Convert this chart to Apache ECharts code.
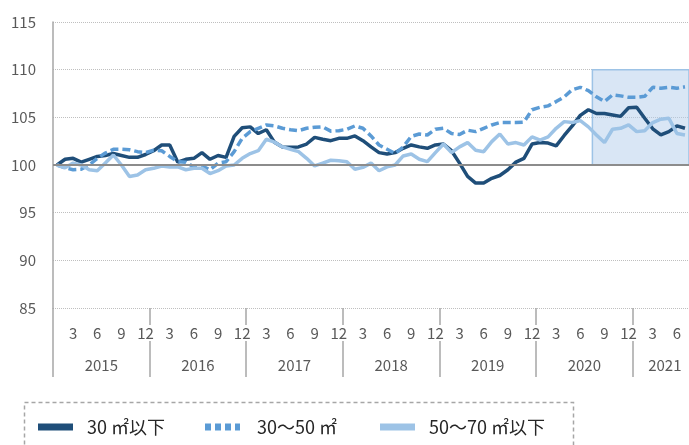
<!DOCTYPE html>
<html>
<head>
<meta charset="utf-8">
<script src="https://cdn.jsdelivr.net/npm/echarts@6/dist/echarts.min.js"></script>
<style>
  html, body { margin: 0; padding: 0; background: #fff; }
  #main { width: 689px; height: 445px; }
</style>
</head>
<body>
<div id="main"></div>
<script>
// 2015年1月 = 100
const years = ['2015', '2016', '2017', '2018', '2019', '2020', '2021']
const lastMonth = 7 // 2021年は7月まで
const seriesNames = ['30 ㎡以下', '30～50 ㎡', '50～70 ㎡以下']

const under30 = [
  100, 100.6, 100.7, 100.3, 100.6, 100.9, 101.0, 101.2, 101.0, 100.8, 100.8, 101.1,
  101.5, 102.1, 102.1, 100.3, 100.6, 100.7, 101.3, 100.6, 101.0, 100.8, 103.0, 103.9,
  104.0, 103.3, 103.7, 102.4, 101.9, 101.85, 101.9, 102.2, 102.9, 102.7, 102.55, 102.8,
  102.8, 103.05, 102.55, 101.9, 101.3, 101.15, 101.3, 101.75, 102.1, 101.9, 101.75, 102.1,
  102.2, 101.5, 100.2, 98.8, 98.1, 98.1, 98.6, 98.9, 99.5, 100.3, 100.7, 102.2,
  102.35, 102.3, 102.0, 103.1, 104.1, 105.2, 105.8, 105.4, 105.4, 105.25, 105.1, 106.0,
  106.05, 104.9, 103.8, 103.15, 103.5, 104.1, 103.85
]
const from30to50 = [
  100, 99.7, 99.5, 99.55, 100.0, 100.7, 101.25, 101.65, 101.65, 101.6, 101.4, 101.3,
  101.55, 101.5, 100.9, 100.35, 100.3, 99.8, 99.9, 99.5, 100.2, 100.35, 101.4, 102.8,
  103.5, 103.85, 104.2, 104.1, 103.85, 103.7, 103.6, 103.85, 103.95, 104.0, 103.55, 103.6,
  103.75, 104.1, 103.85, 103.05, 102.1, 101.65, 101.2, 101.9, 103.0, 103.25, 103.15, 103.75,
  103.85, 103.3, 103.2, 103.65, 103.5, 103.85, 104.2, 104.45, 104.45, 104.45, 104.5, 105.8,
  106.05, 106.2, 106.65, 107.15, 107.9, 108.15, 107.8, 107.15, 106.65, 107.35, 107.25, 107.1,
  107.1, 107.2, 108.15, 108.05, 108.15, 108.05, 108.2
]
const from50to70 = [
  100, 99.7, 100.2, 100.0, 99.5, 99.4, 100.2, 101.05, 100.0, 98.8, 98.95, 99.5,
  99.65, 99.9, 99.8, 99.8, 99.5, 99.65, 99.65, 99.1, 99.4, 99.9, 100.0, 100.7,
  101.2, 101.5, 102.7, 102.4, 101.9, 101.65, 101.4, 100.7, 99.9, 100.2, 100.5, 100.45,
  100.35, 99.55, 99.75, 100.2, 99.4, 99.8, 100.0, 100.95, 101.15, 100.6, 100.35, 101.3,
  102.2, 101.3, 101.9, 102.35, 101.55, 101.4, 102.45, 103.25, 102.2, 102.35, 102.1, 102.95,
  102.6, 102.95, 103.85, 104.55, 104.45, 104.65, 104.0, 103.15, 102.35, 103.75, 103.85, 104.2,
  103.5, 103.6, 104.45, 104.8, 104.9, 103.3, 103.15
]
const colors = ['#1f4e79', '#5b9bd5', '#9dc3e6']

// 強調範囲（2020年8月～）
const highlightFrom = '2020/8'
const highlightTo = '2021/8'
const highlightMin = 100
const highlightMax = 110

// 月のカテゴリ
const months = []
years.forEach((y, k) => {
  const n = k === years.length - 1 ? lastMonth : 12
  for (let m = 1; m <= n; m++) months.push(y + '/' + m)
})
// 年の区切り用の軸は1点多い
const yearPoints = months.concat([highlightTo])
// 年ラベルを各年の中央に置く
const yearLabelAt = {}
years.forEach((y) => {
  const first = months.indexOf(y + '/1')
  const count = months.filter((m) => m.split('/')[0] === y).length
  yearLabelAt[Math.round(first + count / 2)] = y
})

const monthOf = (v) => Number(v.split('/')[1])
const tickStyle = { color: '#a6a6a6', width: 1.5 }
const labelStyle = { fontSize: 15, color: '#595959' }

// 凡例（項目ごとに位置を合わせる）
const legendBase = {
  top: 418,
  padding: 0,
  itemWidth: 35,
  itemHeight: 7,
  itemStyle: { borderWidth: 0 },
  textStyle: { fontSize: 18, color: '#262626', padding: [0, 0, 0, 9] }
}

const myChart = echarts.init(document.getElementById('main'))

const option = {
  animation: false,
  textStyle: { fontFamily: 'Noto Sans CJK JP' },
  grid: { left: 53, right: 0, top: 22, bottom: 137, outerBoundsMode: 'none' },
  graphic: [
    {
      // 凡例の枠
      type: 'rect',
      left: 22,
      top: 400,
      shape: { width: 549, height: 60 },
      style: { fill: 'none', stroke: '#a6a6a6', lineWidth: 1.5, lineDash: [4, 3] },
      silent: true
    }
  ],
  legend: [
    { ...legendBase, left: 38, data: [{ name: seriesNames[0], icon: 'rect' }] },
    {
      ...legendBase,
      left: 205,
      textStyle: { ...legendBase.textStyle, padding: [0, 0, 0, 12] },
      data: [{ name: seriesNames[1], icon: 'path://M0,0H6V7H0Z M10,0H16V7H10Z M20,0H26V7H20Z M30,0H35V7H30Z' }]
    },
    { ...legendBase, left: 380, data: [{ name: seriesNames[2], icon: 'rect' }] }
  ],
  xAxis: [
    {
      // 月（ラベルの白地で区切り線を切る）
      type: 'category',
      data: months,
      boundaryGap: true,
      z: 2,
      axisLine: { show: false, onZero: false },
      axisTick: { show: false },
      axisLabel: {
        interval: (i, v) => monthOf(v) % 3 === 0,
        formatter: (v) => String(monthOf(v)),
        margin: 17,
        backgroundColor: '#fff',
        padding: [0, 1],
        lineHeight: 16,
        ...labelStyle
      }
    },
    {
      // 年
      type: 'category',
      data: yearPoints,
      boundaryGap: false,
      position: 'bottom',
      z: 1,
      axisLine: { show: false, onZero: false },
      axisTick: { show: true, interval: (i, v) => monthOf(v) === 1, length: 69, lineStyle: tickStyle },
      axisLabel: {
        interval: (i) => yearLabelAt[i] !== undefined,
        formatter: (v, i) => yearLabelAt[i] || '',
        margin: 50,
        ...labelStyle
      }
    }
  ],
  yAxis: {
    type: 'value',
    min: 85,
    max: 115,
    interval: 5,
    axisLine: { show: true, lineStyle: tickStyle },
    axisTick: { show: false },
    axisLabel: { margin: 17, ...labelStyle },
    splitLine: { lineStyle: { type: 'dotted', color: '#bfbfbf', width: 1 } }
  },
  series: [
    {
      name: 'highlight',
      type: 'line',
      xAxisIndex: 1,
      data: [],
      z: 1,
      silent: true,
      markArea: {
        silent: true,
        itemStyle: { color: 'rgba(180,205,235,0.5)', borderColor: '#9dc3e6', borderWidth: 1.5 },
        data: [[{ xAxis: highlightFrom, yAxis: highlightMin }, { xAxis: highlightTo, yAxis: highlightMax }]]
      }
    },
    {
      name: 'base',
      type: 'line',
      xAxisIndex: 1,
      data: [],
      z: 2,
      silent: true,
      markLine: {
        silent: true,
        symbol: 'none',
        label: { show: false },
        lineStyle: { color: '#8c8c8c', width: 2, type: 'solid' },
        data: [{ yAxis: 100 }]
      }
    },
    {
      name: seriesNames[0],
      type: 'line',
      data: under30,
      z: 3,
      symbol: 'none',
      itemStyle: { color: colors[0] },
      lineStyle: { color: colors[0], width: 3.5 }
    },
    {
      name: seriesNames[1],
      type: 'line',
      data: from30to50,
      z: 3,
      symbol: 'none',
      itemStyle: { color: colors[1] },
      lineStyle: { color: colors[1], width: 3.5, type: [8, 4] }
    },
    {
      name: seriesNames[2],
      type: 'line',
      data: from50to70,
      z: 3,
      symbol: 'none',
      itemStyle: { color: colors[2] },
      lineStyle: { color: colors[2], width: 3.5 }
    }
  ]
}

myChart.setOption(option)
</script>
</body>
</html>
